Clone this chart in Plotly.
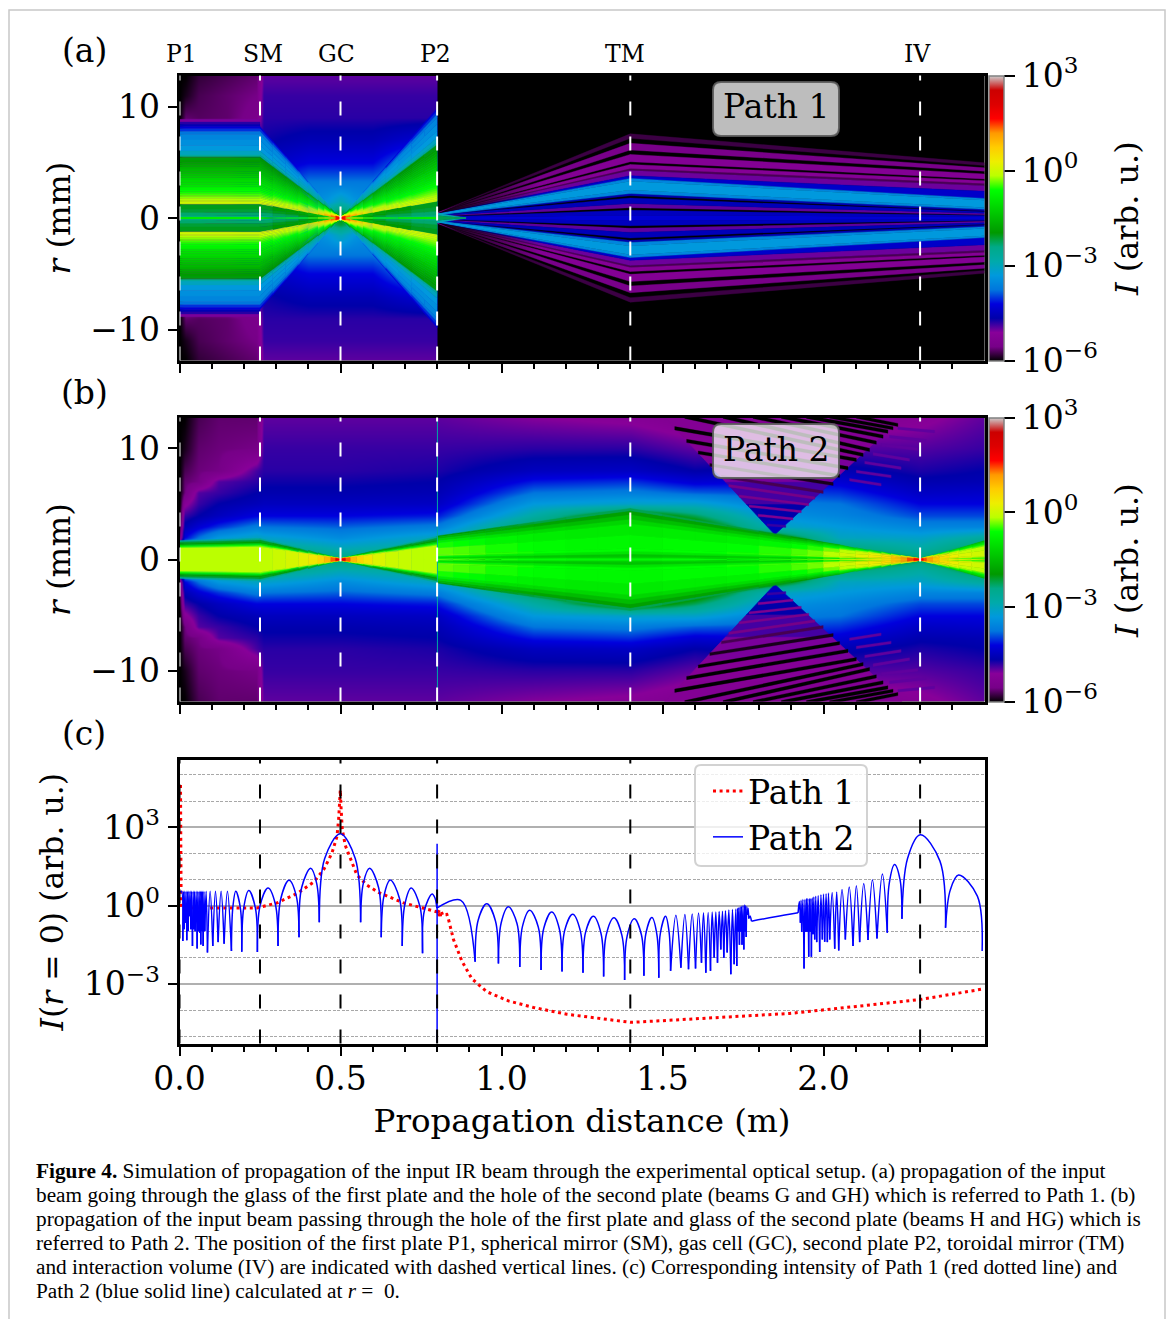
import numpy as np
import plotly.graph_objects as go

W, H = 1166, 1319
SERIF = "DejaVu Serif"

# ---------- colour scale (nipy_spectral) ----------
CMAP = [(0,0,0),(.4667,0,.5333),(.5333,0,.6),(0,0,.6667),(0,0,.8667),(0,.4667,.8667),(0,.6,.8667),
        (0,.6667,.6667),(0,.6667,.5333),(0,.6,0),(0,.7333,0),(0,.8667,0),(0,1,0),(.7333,1,0),
        (.9333,.9333,0),(1,.8,0),(1,.6,0),(1,0,0),(.8667,0,0),(.8,0,0),(.8,.8,.8)]
COLORSCALE = [[i/20, "rgb(%d,%d,%d)" % tuple(round(c*255) for c in col)] for i, col in enumerate(CMAP)]
def level_colour(v):
    v = min(max(v, 0), 1)*20
    i = min(int(v), 19); t = v-i
    c = [(CMAP[i][k]*(1-t)+CMAP[i+1][k]*t)*255 for k in range(3)]
    return "rgb(%d,%d,%d)" % tuple(round(x) for x in c)

# ---------- markers ----------
ELEMENT_Z = [0, 0.25, 0.5, 0.8, 1.4, 2.3]
ELEMENT_NAMES = ["P1", "SM", "GC", "P2", "TM", "IV"]

# ---------- panel (a) background, colour level (0..1 spans 10^-6..10^3) ----------
BASE_A_Z = [0, .02, .06, .15, .24, .26, .4, .46, .5, .54, .6, .799, .801, 2.5]
BASE_A_R = [0, .6, 1.5, 3, 5, 7, 9, 11, 12.85]
BASE_A = [
 [0,0,0,0,0,0,0,0,0],
 [.1,.1,.1,.1,.1,.1,.04,.01,0],
 [.1,.1,.1,.1,.1,.1,.035,.03,.02],
 [.1,.1,.1,.1,.1,.1,.04,.04,.03],
 [.2,.2,.2,.2,.17,.14,.06,.05,.04],
 [.2,.2,.2,.2,.17,.145,.135,.13,.115],
 [.28,.28,.27,.26,.2,.16,.135,.13,.115],
 [.42,.40,.30,.26,.2,.16,.135,.13,.115],
 [.45,.43,.34,.26,.2,.16,.135,.13,.115],
 [.42,.40,.30,.26,.2,.16,.135,.13,.115],
 [.28,.28,.27,.26,.2,.16,.135,.13,.115],
 [.3,.3,.3,.3,.3,.2,.135,.13,.115],
 [0,0,0,0,0,0,0,0,0],
 [0,0,0,0,0,0,0,0,0]]

# panel (a) beam before P2
A1_Z     = [0,.25,.29,.33,.37,.40,.43,.45,.47,.485,.5,.515,.53,.55,.57,.60,.64,.68,.72,.76,.8]
A1_SCALE = [1,1,.84,.68,.52,.40,.28,.20,.12,.06,.015,.06,.12,.2,.28,.4,.56,.72,.88,1.04,1.2]
A1_SHIFT = [0,0,.005,.012,.022,.035,.06,.09,.125,.17,.22,.17,.125,.09,.06,.035,.015,.01,.005,0,0]
A1_EDGE  = [8.85,8.6,8.4,8.2,8.0,7.75,7.5,7.0,6.5,6.0,5.65,5.5,5.45,5.2,5.0,4.8,4.6,4.4,4.2,4.0,3.8,3.6,3.4,3.2,3.0,2.85,2.7,2.5,2.35,2.2,2.05,1.9,1.75,1.6,1.45,1.33,1.26,1.2,.8,.5,.2,.08]
A1_LEVEL = [.105,.135,.16,.19,.22,.25,.27,.285,.30,.33,.37,.41,.445,.455,.465,.475,.485,.495,.505,.515,.525,.535,.545,.555,.565,.575,.585,.595,.605,.615,.625,.635,.645,.655,.665,.675,.44,.44,.43,.41,.39,.57]
A1_DROP = 3   # the faintest outer bands only exist before the spherical mirror
# inner wedge close to P1: planes, edge radii, colour level
A4_Z = [0,.05,.12]
A4_R = [[1.0,.6],[.7,.35],[.15,.05]]
A4_LEVEL = [.37,.34]

# panel (a) fringes after P2: edge radius at P2, TM and the end of the axis
A2_Z = [.8, 1.4, 2.5]
A2_R08 = [.48,.47,.46,.45,.44,.43,.42,.41,.40,.38,.36,.35,.30,.28,.26,.24,.20,.15,.10,.04]
A2_R14 = [7.55,7.15,6.7,6.1,5.7,5.05,4.8,4.45,4.25,3.8,3.55,3.3,2.5,2.2,2.0,1.8,1.3,.93,.69,.25]
A2_R25 = [4.95,4.7,4.5,4.2,3.95,3.5,3.35,3.1,2.9,2.4,1.75,1.6,.95,.78,.62,.55,.42,.3,.22,.1]
A2_LEVEL = [.025,0,.055,0,.085,0,.09,.03,.11,.18,.27,.30,.27,.15,0,.165,.115,0,.17,.19]
# central taper just behind P2
A3_Z = [.8,.84,.89]
A3_R = [[.45,.25,.02],[.22,.12,.01]]
A3_LEVEL = [.34,.42]

# ---------- panel (b) ----------
BASE_B_Z = [0,.015,.06,.12,.24,.26,.5,.8,1.1,1.4,1.6,1.85,2.05,2.3,2.5]
BASE_B_R = [0,1,2,3,4,5,6,7,8,10,12.85]
BASE_B = [
 [.25,.2,.05,.02,.01,0,0,0,0,0,0],
 [.35,.33,.2,.16,.13,.09,.045,.04,.03,.01,0],
 [.4,.36,.25,.19,.15,.13,.12,.05,.045,.04,.03],
 [.4,.38,.3,.22,.17,.15,.13,.12,.05,.045,.04],
 [.4,.4,.33,.26,.2,.165,.15,.135,.125,.05,.04],
 [.4,.4,.32,.25,.2,.17,.155,.145,.135,.13,.115],
 [.42,.34,.28,.24,.2,.17,.155,.145,.135,.13,.115],
 [.4,.38,.33,.26,.21,.175,.16,.15,.14,.13,.115],
 [.5,.5,.5,.44,.36,.30,.25,.21,.17,.135,.10],
 [.5,.5,.5,.5,.5,.32,.26,.22,.175,.135,.09],
 [.5,.5,.5,.5,.42,.32,.24,.19,.15,.115,.07],
 [.5,.5,.48,.33,.29,.26,.23,.2,.16,.12,.06],
 [.5,.42,.33,.3,.27,.25,.22,.19,.16,.12,.07],
 [.42,.36,.32,.27,.23,.2,.175,.155,.14,.12,.09],
 [.5,.45,.37,.27,.23,.2,.18,.16,.15,.13,.115]]

B1_Z     = [0,.25,.29,.33,.37,.40,.43,.45,.47,.485,.5,.515,.53,.55,.57,.60,.64,.68,.72,.76,.8]
B1_SCALE = [.9,1,.85,.695,.54,.43,.31,.236,.16,.1,.045,.1,.15,.22,.29,.4,.54,.675,.815,.955,1.1]
B1_SHIFT = [0,0,.008,.018,.03,.045,.07,.1,.14,.2,.26,.2,.14,.1,.07,.045,.02,.012,.005,0,0]
B1_EDGE  = [1.9,1.75,1.6,1.45,1.35,1.25,1.15]
B1_LEVEL = [.38,.43,.46,.52,.58,.62,.65]

B2_Z     = [.8,.85,.9,.95,1.0,1.05,1.1,1.2,1.3,1.4,1.5,1.6,1.7,1.8,1.9,1.95,2.0,2.05,2.1,2.14,2.18,2.21,2.24,2.26,2.28,2.3,2.31,2.32,2.34,2.36,2.39,2.42,2.46,2.5]
B2_SCALE = [.46,.505,.55,.595,.64,.685,.73,.82,.91,1,.89,.78,.67,.56,.45,.40,.34,.29,.23,.19,.15,.11,.08,.06,.04,.015,.03,.05,.08,.115,.165,.22,.295,.37]
B2_SHIFT = [.04,.033,.027,.02,.015,.011,.007,.003,.001,0,.002,.004,.007,.012,.025,.035,.05,.07,.09,.11,.13,.16,.19,.22,.25,.28,.25,.22,.185,.15,.125,.1,.085,.07]
B2_EDGE  = [4.6,4.35,4.0,3.6,3.2,2.2,1.0,.75,.5,.25,.1]
B2_LEVEL = [.42,.46,.5,.54,.57,.59,.595,.56,.51,.53,.59]

# fringe triangles: radius, left and right limit in z, colour level of the slice
TRI_R = [2.24,3.5,5,7,9,11,12.85]
TRI_LEFT = [1.849,1.808,1.76,1.695,1.63,1.565,1.505]
TRI_RIGHT = [1.849,1.896,1.952,2.027,2.102,2.176,2.245]
TRI_LEVEL = [.17,.15,.125,.105,.09,.085]
# dark fringes in the triangles: end points (z, r), half thickness, colour level
FR_Z0 = [1.825,1.797,1.769,1.738,1.706,1.683,1.647,1.611,1.575,1.538,1.569,1.688,1.781,1.869,1.947,2.019,2.102]
FR_R0 = [3.11,3.98,4.81,5.71,6.64,7.47,8.52,9.63,10.67,11.81,12.85,12.85,12.85,12.85,12.85,12.85,12.85]
FR_Z1 = [1.883,1.905,1.931,1.954,1.973,1.999,2.030,2.050,2.076,2.102,2.123,2.143,2.164,2.185,2.200,2.216,2.231]
FR_R1 = [2.99,3.65,4.31,4.93,5.53,6.07,6.79,7.53,8.22,8.97,9.42,9.87,10.52,11.06,11.51,11.81,12.11]
FR_HALF = [.1,.1,.1,.1,.11,.12,.13,.14,.15,.15,.15,.15,.15,.15,.15,.14,.14]
FR_LEVEL = [.13,.08,.07,.06,.05,.03,.01,0,0,0,0,0,0,0,0,0,0]
# fainter fringes on the flank of the triangles, on the side towards IV
FL_Z0 = [2.081,2.102,2.128,2.154,2.179,2.205,2.231]
FL_R0 = [7.18,7.92,8.73,9.51,10.31,11.06,11.81]
FL_Z1 = [2.179,2.21,2.241,2.267,2.293,2.319,2.345]
FL_R1 = [6.73,7.47,8.22,8.97,9.93,10.7,11.51]
FL_LEVEL = .115

# ---------- panel (c): lobes of the blue curve ----------
BLUE_NULL_Z = [.003,.0103,.0145,.0186,.0227,.0269,.031,.0352,.0403,.0445,.0486,.0548,.0589,.0631,.0662,.0703,.0734,.0786,.0868,
 .1034,.1199,.1385,.1613,.1933,.2419,.306,.3712,.4342,.5625,.6265,.6917,.7548,.7992]
BLUE_NULL_LOG = [.5,-1.36,-.91,-.66,-1.33,-.98,-.41,-.91,-1.55,-.91,-.98,-1.64,-.98,-1.04,-1.49,-.98,-1.55,-.98,-1.80,
 -1.55,-1.40,-1.46,-1.74,-1.77,-1.78,-1.55,-1.21,-.64,-.64,-1.21,-1.55,-1.83,-.1]
BLUE_PEAK_Z = [.0065,.0124,.0165,.0206,.0248,.029,.0331,.0377,.0424,.0465,.0517,.0568,.061,.0646,.0682,.0718,.076,.0827,.0951,
 .1117,.1292,.1489,.1747,.2151,.275,.3402,.4074,.4994,.5904,.6545,.7196,.7847]
BLUE_PEAK_LOG = [.546]*19+[.546,.546,.546,.546,.572,.673,.966,1.423,2.745,1.423,.978,.673,.445]

BLUE2_NULL_Z = [.8003,.9181,.9905,1.0567,1.1228,1.188,1.2531,1.3172,1.3824,1.4423,1.4885,1.5251,1.5571,1.5808,1.6026,1.6211,1.6346,1.6491,
 1.6605,1.6708,1.6811,1.6904,1.7008,1.7122,1.7225,1.7308,1.735,1.739,1.743,1.747,1.7526,1.7565,1.76,1.764,1.768,1.7762,1.9211,
 1.9283,1.9323,1.9396,1.9448,1.949,1.9541,1.9593,1.9624,1.9676,1.9727,1.9789,1.9882,1.9965,2.0037,2.012,2.0193,2.0348,2.0472,2.0679,2.0917,
 2.1123,2.1382,2.1661,2.1982,2.2436,2.379,2.4927]
BLUE2_NULL_LOG = [-.09,-2.15,-2.22,-2.35,-2.47,-2.52,-2.57,-2.72,-2.85,-2.69,-2.76,-2.50,-2.38,-2.44,-2.41,-2.19,-2.57,-2.50,
 -2.0,-2.19,-1.68,-2.0,-1.8,-2.63,-2.25,-2.31,-1.0,-1.5,-1.0,-1.5,-1.68,-1.0,-1.2,-.35,-.5,-.6,-.28,
 -.66,-1.0,-2.41,-1.0,-1.0,-1.96,-1.0,-1.96,-1.1,-1.30,-1.4,-1.78,-1.3,-1.39,-1.4,-1.30,-1.65,-1.72,-1.30,-1.55,
 -1.40,-1.32,-1.26,-1.04,-.51,-.85,-1.74]
BLUE2_PEAK_Z = [.8737,.9543,1.0215,1.0877,1.1559,1.2211,1.2852,1.3493,1.4124,1.4671,1.5097,1.5415,1.5695,1.5922,1.6119,1.6273,1.6418,1.6543,
 1.6656,1.6759,1.6863,1.6956,1.706,1.7173,1.7277,1.7329,1.737,1.741,1.745,1.75,1.7545,1.758,1.762,1.766,1.772,1.85,
 1.925,1.9303,1.936,1.9422,1.947,1.9515,1.9567,1.961,1.965,1.97,1.976,1.9835,1.992,2.0,2.008,2.0155,2.027,2.041,2.0575,2.08,
 2.102,2.125,2.152,2.183,2.2209,2.3007,2.4194]
BLUE2_PEAK_LOG = [.2,.064,-.05,-.18,-.25,-.33,-.41,-.47,-.51,-.46,-.41,-.37,-.34,-.32,-.29,-.28,-.27,-.25,
 -.25,-.23,-.22,-.2,-.17,-.15,-.13,-.1,-.08,-.05,-.03,0,.03,0,-.05,-.1,-.4,-.43,
 .15,.2,.23,.23,.27,.27,.27,.27,.3,.33,.36,.38,.41,.44,.45,.48,.5,.52,.61,.71,
 .76,.84,.99,1.21,1.57,2.71,1.17]
# shoulders read on the wide lobes: peak z, left (z, log), right (z, log)
SH_PEAK = [.1747,.2151,.275,.3402,.4074,.4994,.5904,.6545,.7196,.7847,.9543,1.0215,1.0877,1.1559,1.2211,1.2852,1.3493,1.4124,1.4671,1.5097,2.2209,2.3007,2.4194]
SH_ZL = [.1655,.1996,.2502,.3145,.3794,.4509,.5708,.635,.6999,.7606,.9275,.9991,1.0653,1.1313,1.1965,1.2614,1.3257,1.3902,1.4483,1.4933,2.2041,2.2612,2.3938]
SH_LL = [-.09,-.08,-.01,.26,.69,1.80,.85,.37,.05,-.19,-.56,-.66,-.79,-.87,-.94,-1.01,-1.10,-1.17,-1.08,-1.07,.84,1.81,.60]
SH_ZR = [.1891,.2356,.2977,.3627,.4260,.5458,.6182,.6832,.7466,.7934,.9811,1.0481,1.1142,1.1795,1.2446,1.3089,1.3739,1.4345,1.4825,1.5203,2.2377,2.3614,2.4779]
SH_LR = [-.10,-.09,.05,.36,.85,1.80,.69,.27,-.03,.29,-.58,-.69,-.82,-.89,-.96,-1.06,-1.14,-1.12,-1.10,-1.0,.99,1.71,.36]
BLUE_SPIKE_Z = [.8,.8]
BLUE_SPIKE_LOG = [-5.23,2.36]

RED_Z = [.0031,.0031,.0031,.0052,.1168,.2409,.3029,.365,.4167,.4477,.4735,.489,.4942,.4973,.4994,.5015,.5056,.5149,.5304,.551,.5821,.6183,.6958,.7992,
 .8075,.7992,.8199,.803,.8302,.8354,.8509,.8768,.9078,.9543,1.0215,1.099,1.2025,1.3058,1.4,1.4816,1.6884,1.8951,2.1019,2.2984,2.4927]
RED_LOG = [4.61,2.13,.1,-.09,-.09,-.09,.10,.46,.90,1.37,2.01,2.64,3.3,3.84,4.42,3.8,2.9,2.3,1.8,1.17,.78,.5,.1,-.24,
 -.15,-.38,-.28,-.36,-.34,-.53,-1.3,-2.12,-2.8,-3.3,-3.65,-3.9,-4.16,-4.32,-4.47,-4.42,-4.28,-4.13,-3.86,-3.6,-3.2]

CAPTION = [
 "<b>Figure 4.</b> Simulation of propagation of the input IR beam through the experimental optical setup. (a) propagation of the input",
 "beam going through the glass of the first plate and the hole of the second plate (beams G and GH) which is referred to Path 1. (b)",
 "propagation of the input beam passing through the hole of the first plate and glass of the second plate (beams H and HG) which is",
 "referred to Path 2. The position of the first plate P1, spherical mirror (SM), gas cell (GC), second plate P2, toroidal mirror (TM)",
 "and interaction volume (IV) are indicated with dashed vertical lines. (c) Corresponding intensity of Path 1 (red dotted line) and",
 "Path 2 (blue solid line) calculated at <i>r</i> =  0."]

# ---------- helpers ----------
fig = go.Figure()
px = lambda v: v/W
py = lambda v: 1-v/H

def to_log(level):
    return np.array(level)*9-6

def add_base(z_cols, r_rows, table, xa, ya, ca):
    t = np.array(table).T
    y = [-r for r in r_rows[::-1][:-1]]+list(r_rows)
    z = np.vstack([t[::-1][:-1], t])
    fig.add_trace(go.Heatmap(x=z_cols, y=y, z=to_log(z), coloraxis=ca, zsmooth="best", xaxis=xa, yaxis=ya, hoverinfo="skip"))

def band_polys(groups, planes, edge_rows, levels, shifts=None):
    n = len(levels)
    for k in range(len(planes)-1):
        s = 0 if shifts is None else (shifts[k]+shifts[k+1])/2
        a, b = edge_rows[k], edge_rows[k+1]
        for i in range(n):
            hi0, hi1 = a[i], b[i]
            lo0, lo1 = (a[i+1], b[i+1]) if i < n-1 else (0, 0)
            key = round((levels[i]+s)*200)
            g = groups.setdefault(key, ([], []))
            for sign in (1, -1):
                g[0].extend([planes[k], planes[k+1], planes[k+1], planes[k], planes[k], None])
                g[1].extend([sign*hi0, sign*hi1, sign*lo1, sign*lo0, sign*hi0, None])

def draw_groups(groups, xa, ya):
    for key in sorted(groups):
        col = level_colour(key/200)
        xs, ys = groups[key]
        fig.add_trace(go.Scatter(x=xs, y=ys, mode="lines", fill="toself", fillcolor=col,
                                 line=dict(color=col, width=.4), xaxis=xa, yaxis=ya,
                                 hoverinfo="skip", showlegend=False))

def add_fringe(z0, r0, z1, r1, h, level, xa, ya):
    col = level_colour(level)
    fig.add_trace(go.Scatter(x=[z0, z1, z1, z0, z0], y=[r0+h, r1+h, r1-h, r0-h, r0+h], mode="lines", fill="toself",
                             fillcolor=col, line=dict(color=col, width=.3), xaxis=xa, yaxis=ya, hoverinfo="skip", showlegend=False))

# ---------- panel (a) ----------
add_base(BASE_A_Z, BASE_A_R, BASE_A, "x", "y", "coloraxis")
g = {}
band_polys(g, A1_Z[:2], [[e*s for e in A1_EDGE] for s in A1_SCALE[:2]], A1_LEVEL, A1_SHIFT[:2])
band_polys(g, A1_Z[1:], [[e*s for e in A1_EDGE[A1_DROP:]] for s in A1_SCALE[1:]], A1_LEVEL[A1_DROP:], A1_SHIFT[1:])
band_polys(g, A2_Z, [A2_R08, A2_R14, A2_R25], A2_LEVEL)
band_polys(g, A4_Z, A4_R, A4_LEVEL)
draw_groups(g, "x", "y")
# fading of the outer fringes close to P2
fig.add_trace(go.Scatter(x=[.8,1.12,1.12,.8,None,.8,1.12,1.12,.8], y=[.4,4.2,2.1,.4,None,-.4,-4.2,-2.1,-.4], mode="lines", fill="toself",
    line=dict(width=0), fillgradient=dict(type="horizontal", colorscale=[[0,"rgba(0,0,0,0.92)"],[1,"rgba(0,0,0,0)"]]),
    xaxis="x", yaxis="y", hoverinfo="skip", showlegend=False))
g = {}
band_polys(g, A3_Z, [[A3_R[0][k], A3_R[1][k]] for k in range(3)], A3_LEVEL)
draw_groups(g, "x", "y")

# ---------- panel (b) ----------
add_base(BASE_B_Z, BASE_B_R, BASE_B, "x2", "y2", "coloraxis2")
for sign in (1, -1):
    for i in range(len(FL_Z0)):
        add_fringe(FL_Z0[i], sign*FL_R0[i], FL_Z1[i], sign*FL_R1[i], .12, FL_LEVEL, "x2", "y2")
    for k in range(len(TRI_LEVEL)):
        col = level_colour(TRI_LEVEL[k])
        fig.add_trace(go.Scatter(x=[TRI_LEFT[k], TRI_RIGHT[k], TRI_RIGHT[k+1], TRI_LEFT[k+1], TRI_LEFT[k]],
                                 y=[sign*TRI_R[k], sign*TRI_R[k], sign*TRI_R[k+1], sign*TRI_R[k+1], sign*TRI_R[k]],
                                 mode="lines", fill="toself", fillcolor=col, line=dict(color=col, width=.7),
                                 xaxis="x2", yaxis="y2", hoverinfo="skip", showlegend=False))
    for i in range(len(FR_Z0)):
        add_fringe(FR_Z0[i], sign*FR_R0[i], FR_Z1[i], sign*FR_R1[i], FR_HALF[i], FR_LEVEL[i], "x2", "y2")
g = {}
band_polys(g, B1_Z, [[e*s for e in B1_EDGE] for s in B1_SCALE], B1_LEVEL, B1_SHIFT)
band_polys(g, B2_Z, [[e*s for e in B2_EDGE] for s in B2_SCALE], B2_LEVEL, B2_SHIFT)
draw_groups(g, "x2", "y2")
fig.add_trace(go.Scatter(x=[.801,.801], y=[-12.85,12.85], mode="lines", line=dict(color=level_colour(.36), width=1),
                         xaxis="x2", yaxis="y2", hoverinfo="skip", showlegend=False))

# ---------- panel (c) ----------
def lobes(nz, nl, pz, pl):
    xs, ys = [], []
    for i in range(len(pz)):
        if pz[i] in SH_PEAK:
            j = SH_PEAK.index(pz[i])
            xs += [nz[i], SH_ZL[j], pz[i], SH_ZR[j], nz[i+1], None]
            ys += [10**nl[i], 10**SH_LL[j], 10**pl[i], 10**SH_LR[j], 10**nl[i+1], None]
        else:
            xs += [nz[i], pz[i], nz[i+1], None]
            ys += [10**nl[i], 10**pl[i], 10**nl[i+1], None]
    return xs, ys
xb1, yb1 = lobes(BLUE_NULL_Z, BLUE_NULL_LOG, BLUE_PEAK_Z, BLUE_PEAK_LOG)
xb2, yb2 = lobes(BLUE2_NULL_Z, BLUE2_NULL_LOG, BLUE2_PEAK_Z, BLUE2_PEAK_LOG)
fig.add_trace(go.Scatter(x=RED_Z, y=[10**v for v in RED_LOG], mode="lines", name="Path 1",
                         line=dict(color="#ff0000", width=3, dash="3px,3.6px"), xaxis="x3", yaxis="y3", hoverinfo="skip"))
fig.add_trace(go.Scatter(x=xb1+xb2, y=yb1+yb2, mode="lines", name="Path 2",
                         line=dict(color="#0000ff", width=1.5, shape="spline", smoothing=1.0),
                         xaxis="x3", yaxis="y3", hoverinfo="skip"))
fig.add_trace(go.Scatter(x=BLUE_SPIKE_Z, y=[10**v for v in BLUE_SPIKE_LOG], mode="lines", showlegend=False,
                         line=dict(color="#0000ff", width=1.5), xaxis="x3", yaxis="y3", hoverinfo="skip"))

# ---------- axes ----------
MAJOR_X = [0, .5, 1, 1.5, 2]
MINOR_X = [v/10 for v in range(0, 25) if v % 5]
TICKFONT = dict(family=SERIF, size=33, color="black")
TITLEFONT = dict(family=SERIF, size=32.5, color="black")
X0, X1 = 179.5, 984.5
def xaxis(labels, anchor):
    return dict(domain=[px(X0), px(X1)], range=[0, 2.5], anchor=anchor, tickmode="array", tickvals=MAJOR_X,
                ticktext=["0.0","0.5","1.0","1.5","2.0"], showticklabels=labels, ticks="outside", ticklen=9, tickwidth=2,
                tickcolor="black", showline=True, linecolor="black", linewidth=3, mirror=True, showgrid=False, zeroline=False,
                minor=dict(tickmode="array", tickvals=MINOR_X, ticks="outside", ticklen=5, tickwidth=1.5, tickcolor="black", showgrid=False),
                tickfont=TICKFONT, ticklabelstandoff=-5)
def yaxis_r(top, bot, anchor):
    return dict(domain=[py(bot), py(top)], range=[-12.78, 12.78], anchor=anchor, tickmode="array", tickvals=[-10, 0, 10],
                ticks="outside", ticklen=9, tickwidth=2, tickcolor="black", showline=True, linecolor="black", linewidth=3,
                mirror=True, showgrid=False, zeroline=False, tickfont=TICKFONT, ticklabelstandoff=1,
                title=dict(text="<i>r</i> (mm)", font=TITLEFONT, standoff=10))
def cax(top, bot):
    return dict(cmin=-6, cmax=3, colorscale=COLORSCALE,
                colorbar=dict(x=px(989), xanchor="left", y=py(bot), yanchor="bottom", len=(bot-top)/H, lenmode="fraction",
                              thickness=15, thicknessmode="pixels", xpad=0, ypad=0, outlinecolor="#808080", outlinewidth=1.5,
                              tickmode="array", tickvals=[-6,-3,0,3],
                              ticktext=["10<sup>\u22126</sup>","10<sup>\u22123</sup>","10<sup>0</sup>","10<sup>3</sup>"],
                              ticks="outside", ticklen=11, tickwidth=2, tickcolor="black", tickfont=TICKFONT))

y3 = dict(domain=[py(1043.5), py(760)], type="log", range=[-5.28, 5.57], anchor="x3", tickmode="array", tickvals=[1e-3, 1, 1e3],
          ticktext=["10<sup>\u22123</sup>","10<sup>0</sup>","10<sup>3</sup>"], ticks="outside", ticklen=9, tickwidth=2, tickcolor="black",
          showline=True, linecolor="black", linewidth=3, mirror=True, zeroline=False, showgrid=True, gridcolor="#b0b0b0", gridwidth=2,
          tickfont=TICKFONT, ticklabelstandoff=1, title=dict(text="<i>I</i>(<i>r</i> = 0) (arb. u.)", font=dict(family=SERIF, size=31.5, color="black"), standoff=11),
          minor=dict(tickmode="array", tickvals=[1e-5,1e-4,1e-2,1e-1,1e1,1e2,1e4,1e5], ticks="", showgrid=True,
                     gridcolor="#a8a8a8", griddash="3px,1.5px", gridwidth=1))
x3 = xaxis(True, "y3")
x3["title"] = dict(text="Propagation distance (m)", font=TITLEFONT, standoff=13)

# ---------- shapes and text ----------
shapes = [dict(type="rect", xref="paper", yref="paper", x0=px(9), x1=px(1165), y0=py(1330), y1=py(10),
               line=dict(color="#c8c8c8", width=1.5), layer="below")]
for xr, yr in (("x domain","y domain"),("x2 domain","y2 domain")):
    shapes.append(dict(type="rect", xref=xr, yref=yr, x0=0, x1=1, y0=0, y1=1, fillcolor="black", line=dict(width=0), layer="below"))
for z in ELEMENT_Z:
    for xr, yr, col in (("x","y domain","white"),("x2","y2 domain","white"),("x3","y3 domain","black")):
        shapes.append(dict(type="line", xref=xr, yref=yr, x0=z, x1=z, y0=0, y1=1, layer="above",
                           line=dict(color=col, width=2, dash="14px,21px")))
def round_box(x0, y0, x1, y1, r, fill, edge):
    p = (f"M {px(x0+r)} {py(y0)} L {px(x1-r)} {py(y0)} Q {px(x1)} {py(y0)} {px(x1)} {py(y0+r)} "
         f"L {px(x1)} {py(y1-r)} Q {px(x1)} {py(y1)} {px(x1-r)} {py(y1)} L {px(x0+r)} {py(y1)} "
         f"Q {px(x0)} {py(y1)} {px(x0)} {py(y1-r)} L {px(x0)} {py(y0+r)} Q {px(x0)} {py(y0)} {px(x0+r)} {py(y0)} Z")
    return dict(type="path", xref="paper", yref="paper", path=p, fillcolor=fill, line=dict(color=edge, width=2), layer="above")
shapes.append(round_box(713, 82, 839, 136, 8, "rgba(255,255,255,0.74)", "rgba(90,90,90,0.9)"))
shapes.append(round_box(713, 424, 839, 478, 8, "rgba(255,255,255,0.74)", "rgba(90,90,90,0.9)"))
shapes.append(round_box(695, 765, 867, 866, 6, "rgba(255,255,255,0.8)", "rgba(205,205,205,0.9)"))

def note(text, x, y, size=33, family=SERIF, xanchor="center", angle=0):
    return dict(text=text, xref="paper", yref="paper", x=px(x), y=py(y), xanchor=xanchor, yanchor="middle", showarrow=False,
                font=dict(family=family, size=size, color="black"), align="left", textangle=angle)
ann = [note("(a)", 84, 50), note("(b)", 84, 392), note("(c)", 84, 734),
       note("Path 1", 776, 107), note("Path 2", 776, 449),
       note("<i>I</i> (arb. u.)", 1127, 219, size=32, angle=-90), note("<i>I</i> (arb. u.)", 1127, 561, size=32, angle=-90)]
for name, x in zip(ELEMENT_NAMES, [181, 263, 336, 435, 625, 917]):
    ann.append(note(name, x, 54, size=23.5))
for i, line in enumerate(CAPTION):
    ann.append(note(line, 34, 1171+24*i, size=21.3, family="Liberation Serif", xanchor="left"))

fig.update_layout(width=W, height=H, margin=dict(l=0, r=0, t=0, b=0, autoexpand=False), paper_bgcolor="white", plot_bgcolor="rgba(0,0,0,0)",
    xaxis=xaxis(False, "y"), yaxis=yaxis_r(75.5, 360.5, "x"),
    xaxis2=xaxis(False, "y2"), yaxis2=yaxis_r(417.5, 701.5, "x2"),
    xaxis3=x3, yaxis3=y3,
    coloraxis=cax(75.5, 360.5), coloraxis2=cax(417.5, 701.5),
    shapes=shapes, annotations=ann,
    legend=dict(x=px(708), y=py(763), xanchor="left", yanchor="top", bgcolor="rgba(0,0,0,0)", font=TICKFONT, itemwidth=30,
                borderwidth=0, tracegroupgap=0))

fig.write_html("out.html", config=dict(displayModeBar=False), post_script="document.body.style.margin='0';")
